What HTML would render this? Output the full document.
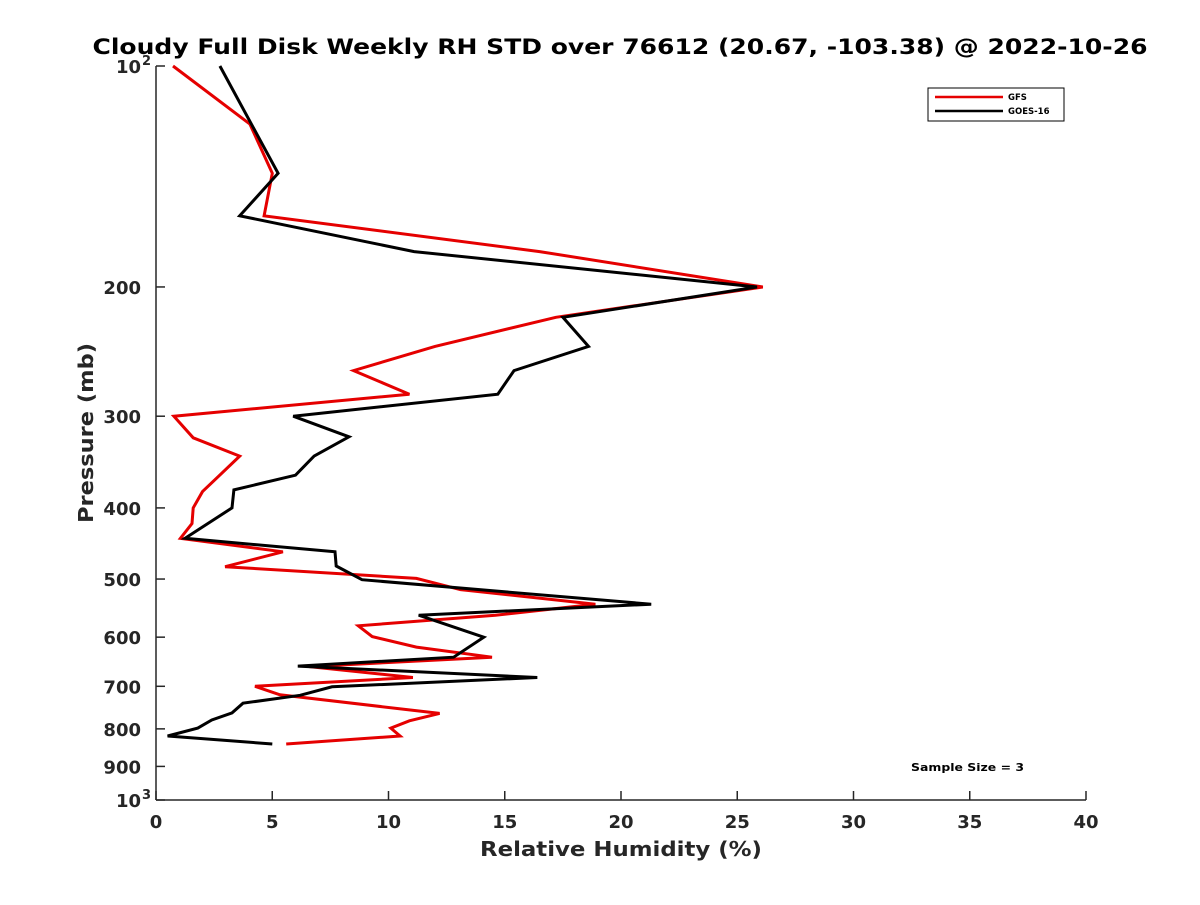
<!DOCTYPE html>
<html><head><meta charset="utf-8"><style>
html,body{margin:0;padding:0;background:#fff;}
svg text{font-family:"DejaVu Sans","Liberation Sans",sans-serif;font-weight:bold;fill:#262626;}
</style></head><body>
<svg id="chart" width="1200" height="900" viewBox="0 0 1200 900" xmlns="http://www.w3.org/2000/svg">
<rect width="1200" height="900" fill="#fff"/>
<text x="620" y="54" text-anchor="middle" font-size="21" textLength="1055" lengthAdjust="spacingAndGlyphs" style="fill:#000">Cloudy Full Disk Weekly RH STD over 76612 (20.67, -103.38) @ 2022-10-26</text>
<g id="axes"></g>
<g id="series"></g>
<g>
<rect x="928" y="88" width="136" height="33" fill="#fff" stroke="#000" stroke-width="1"/>
<line x1="935" y1="97" x2="1003" y2="97" stroke="#e50000" stroke-width="2.5"/>
<text x="1008" y="100" font-size="8.5" style="fill:#000">GFS</text>
<line x1="935" y1="111" x2="1003" y2="111" stroke="#000" stroke-width="2.5"/>
<text x="1008" y="114" font-size="8.5" style="fill:#000">GOES-16</text>
</g>
<text x="911" y="771" font-size="11" textLength="113" lengthAdjust="spacingAndGlyphs" style="fill:#000">Sample Size = 3</text>
<text x="621" y="856" text-anchor="middle" font-size="20" textLength="282" lengthAdjust="spacingAndGlyphs">Relative Humidity (%)</text>
<text transform="translate(93,433) rotate(-90)" text-anchor="middle" font-size="20" textLength="180" lengthAdjust="spacingAndGlyphs">Pressure (mb)</text>
</svg>
<script>
const xTicks = [0,5,10,15,20,25,30,35,40];
const yTicks = [200,300,400,500,600,700,800,900];
const gfsPressure = [100,120,140,160,179,200,220,241,260,280,300,321,340,362,380,400,420,440,459,481,499,517,541,560,579,599,619,639,658,681,700,719,762,780,798,818,839];
const gfsRH = [0.73,4.04,5.0,4.65,16.5,26.1,17.2,12.0,8.5,10.9,0.77,1.6,3.6,2.7,2.0,1.6,1.55,1.05,5.46,2.97,11.2,13.1,18.9,14.6,8.7,9.3,11.2,14.45,6.6,11.05,4.26,5.33,12.2,10.9,10.1,10.5,5.6];
const goesPressure = [100,140,160,179,200,220,241,260,280,300,320,340,361,378,400,440,459,480,501,541,560,600,639,657,681,701,720,738,761,778,798,818,839];
const goesRH = [2.75,5.25,3.6,11.1,25.85,17.5,18.6,15.4,14.7,5.9,8.3,6.8,6.0,3.35,3.27,1.25,7.7,7.75,8.86,21.3,11.3,14.1,12.8,6.1,16.4,7.57,6.2,3.74,3.27,2.4,1.8,0.5,5.0];

const X0=156,X1=1086,Y0=66,Y1=800;
const xs=v=>X0+(v-0)/(40-0)*(X1-X0);
const ys=p=>Y0+(Math.log10(p)-2)*(Y1-Y0);
const NS='http://www.w3.org/2000/svg';
const axes=document.getElementById('axes');
const series=document.getElementById('series');
function mk(tag,attrs,parent){const e=document.createElementNS(NS,tag);for(const k in attrs)e.setAttribute(k,attrs[k]);parent.appendChild(e);return e;}

let ax=mk('line',{x1:X0,y1:Y0,x2:X0,y2:Y1,stroke:'#262626','stroke-width':1.5},axes);


let bx=mk('line',{x1:X0,y1:Y1,x2:X1,y2:Y1,stroke:'#262626','stroke-width':1.5},axes);



xTicks.forEach(v=>{
  const x=xs(v);
  mk('line',{x1:x,y1:Y1,x2:x,y2:Y1-9,stroke:'#262626','stroke-width':1.5},axes);
  const t=mk('text',{x:x,y:Y1+28,'text-anchor':'middle','font-size':18},axes);
  t.textContent=v;
  
  
});
[100,1000].concat(yTicks).forEach(p=>{
  const y=ys(p);
  mk('line',{x1:X0,y1:y,x2:X0+9,y2:y,stroke:'#262626','stroke-width':1.5},axes);
});
yTicks.forEach(p=>{
  const t=mk('text',{x:X0-15,y:ys(p)+7,'text-anchor':'end','font-size':18},axes);
  t.textContent=p;
  
  
});
[[100,'2'],[1000,'3']].forEach(([p,e])=>{
  const y=ys(p);
  const t=mk('text',{x:X0-15,y:y+7,'text-anchor':'end','font-size':18},axes);
  t.textContent='10';
  
  
  const s=mk('text',{x:X0-14,y:y-1,'text-anchor':'start','font-size':13},axes);
  s.textContent=e;
  
  
});

function drawLine(ps,vals,color,name){
  const pts=ps.map((p,i)=>xs(vals[i]).toFixed(1)+','+ys(p).toFixed(1)).join(' ');
  const l=mk('polyline',{points:pts,fill:'none',stroke:color,'stroke-width':3,'stroke-linejoin':'miter'},series);
  
  
}
drawLine(gfsPressure,gfsRH,'#e50000','gfs-line');
drawLine(goesPressure,goesRH,'#000','goes16-line');
</script>
</body></html>
